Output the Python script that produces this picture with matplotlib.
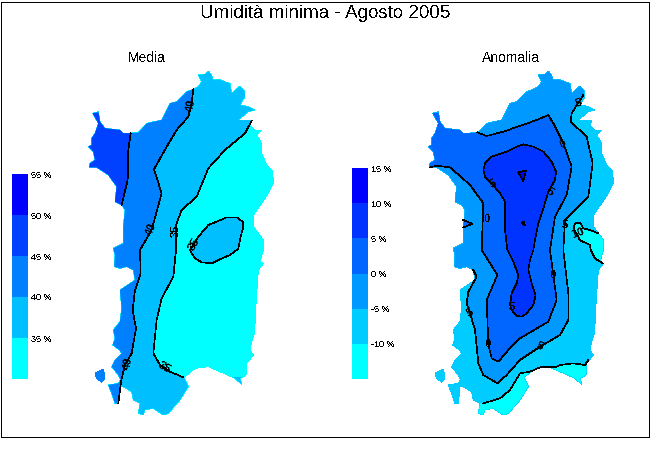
import matplotlib
matplotlib.use("Agg")
import matplotlib.pyplot as plt
from matplotlib.patches import Polygon, Rectangle

plt.rcParams['font.family'] = ['Liberation Sans', 'DejaVu Sans']
plt.rcParams['text.antialiased'] = False

# Map coordinates: 3 units = 1 pixel, origin at top left of the map box
coast = [(355,20),(365,5),(355,-15),(375,-18),(385,-27),(395,-15),(400,0),(415,-2),(435,5),(450,10),(455,40),(480,18),
         (495,35),(495,50),(485,65),(482,75),(505,80),(525,90),(505,95),(475,120),(510,120),(515,122),(510,135),(525,150),
         (545,150),(530,165),(545,190),(545,220),(560,255),(578,275),(580,310),(565,340),(548,365),(520,405),(520,440),
         (550,480),(550,510),(540,545),(550,550),(535,570),(532,610),(528,670),(525,730),(525,755),(515,785),(510,810),
         (520,825),(500,850),(498,885),(480,895),(485,913),(465,895),(420,875),(385,860),(345,865),(312,892),(325,920),
         (300,960),(265,1000),(250,1005),(220,985),(195,990),(190,1005),(175,1000),(180,970),(160,960),(155,935),(130,920),
         (120,920),(115,970),(105,970),(95,940),(85,915),(115,910),(122,900),(115,885),(95,860),(105,840),(125,820),
         (118,810),(98,795),(105,775),(100,750),(120,725),(125,685),(120,630),(135,620),(165,600),(160,570),(140,560),
         (120,565),(103,560),(105,525),(100,505),(130,490),(130,440),(135,390),(125,375),(105,365),(110,320),(85,285),
         (50,262),(28,262),(30,250),(45,240),(40,215),(25,200),(35,195),(35,175),(45,160),(55,130),(38,100),(55,95),
         (60,125),(75,145),(120,150),(130,160),(175,158),(200,130),(245,120),(270,70),(290,65),(320,35),(340,28)]
small_island = [(45,880),(70,868),(75,895),(65,907),(50,895)]

# Media contours
media_45 = [(152,160),(145,210),(143,300),(125,375)]
media_40 = [(340,28),(335,70),(325,110),(290,150),(260,200),(222,268),(245,340),(215,450),(180,510),(182,580),
            (165,630),(158,690),(168,745),(155,820),(135,855),(123,905),(115,970)]
media_35 = [(515,122),(495,160),(435,210),(385,265),(350,350),(305,390),(288,435),(288,510),(280,590),(245,655),
            (230,720),(225,770),(220,820),(240,855),(270,875),(310,892)]
media_35_closed = [(355,470),(385,435),(410,425),(440,412),(470,412),(488,425),(490,440),(482,470),(475,505),(470,510),
                   (450,525),(415,540),(395,550),(365,547),(345,535),(335,520),(330,510),(340,495)]

# Anomalia contours
anom_m10_east = [(535,460),(510,450),(490,445),(480,428),(465,430),(460,445),(475,470),(478,480),(510,495),(512,510),
                 (525,535),(548,550)]
anom_m10_south = [(190,970),(240,955),(270,930),(300,880),(330,875),(360,862),(410,860),(420,855),(460,850),(495,855),
                  (505,840)]
anom_m5 = [(490,45),(475,68),(455,100),(452,125),(500,170),(518,250),(505,350),(435,420),(430,510),(445,640),(445,720),
           (420,765),(360,800),(300,840),(260,885),(232,910),(190,885),(175,850),(165,750),(150,700),(140,670),(145,635),
           (170,590),(160,570)]
anom_0 = [(172,157),(200,168),(250,155),(350,120),(385,105),(400,130),(430,190),(455,260),(440,345),(405,410),(390,510),
          (400,585),(410,660),(385,725),(300,775),(265,810),(235,845),(215,835),(205,795),(200,660),(232,585),(185,510),
          (190,370),(150,315),(90,262),(50,257),(30,262)]
anom_5 = [(310,193),(340,200),(370,215),(395,245),(408,275),(405,300),(385,335),(370,385),(355,430),(345,480),(340,510),
          (330,540),(325,570),(335,610),(347,645),(340,675),(320,700),(305,710),(290,708),(275,690),(270,675),(275,640),
          (290,610),(295,585),(280,545),(262,510),(255,450),(255,365),(240,340),(215,310),(195,290),(190,270),(195,250),
          (215,230),(260,215),(290,200)]
anom_10_a = [(295,277),(318,272),(310,303)]
anom_10_b = [(306,430),(311,424),(315,436)]
anom_bay = [(130,420),(158,432),(130,442)]

# Colour bars
media_levels = [30, 35, 40, 45, 50, 55]
media_colors = ['#00FFFF', '#00BFFF', '#0080FF', '#0040FF', '#0000FF']
anom_levels = [-15, -10, -5, 0, 5, 10, 15]
anom_colors = ['#00FFFF', '#00CCFF', '#0099FF', '#0066FF', '#0033FF', '#0000FF']

W, H = 650, 450


def px_axes(fig, x0, y0, w, h):
    # axes placed by pixel box, y0 counted from the top
    return fig.add_axes([x0 / W, 1 - (y0 + h) / H, w / W, h / H])


def fill(ax, pts, color, clip):
    p = Polygon(pts, closed=True, fc=color, ec='none', antialiased=False, zorder=2)
    ax.add_patch(p)
    p.set_clip_path(clip)


def line(ax, pts, closed=False):
    xs = [p[0] for p in pts]
    ys = [p[1] for p in pts]
    if closed:
        xs.append(xs[0])
        ys.append(ys[0])
    ax.plot(xs, ys, color='black', lw=0.45, zorder=3, antialiased=False)


def map_axes(fig, x0, base):
    ax = px_axes(fig, x0, 60, 200, 360)
    ax.set_xlim(0, 600)
    ax.set_ylim(1020, -60)
    ax.axis('off')
    island = Polygon(coast, closed=True, fc=base, ec='none', antialiased=False, zorder=1)
    ax.add_patch(island)
    ax.add_patch(Polygon(small_island, closed=True, fc=base, ec='none', antialiased=False, zorder=1))
    return ax, island


def label(ax, x, y, s, rot):
    ax.text(x, y, s, fontsize=8, fontweight='bold', rotation=rot, ha='center', va='center',
            color='black', zorder=4)


def colorbar(fig, x0, y0, h, levels, colors, tick_levels, suffix=' %'):
    ax = px_axes(fig, x0, y0, 16, h)
    ax.bar([0] * len(colors), [levels[i + 1] - levels[i] for i in range(len(colors))], bottom=levels[:-1],
           width=1, color=colors, antialiased=False)
    ax.set_xlim(-0.5, 0.5)
    ax.set_ylim(levels[0], levels[-1])
    ax.set_xticks([])
    ax.yaxis.tick_right()
    ax.set_yticks(tick_levels)
    ax.set_yticklabels([str(v) + suffix for v in tick_levels], fontsize=6.5)
    ax.tick_params(axis='y', length=0, pad=2)
    for s in ax.spines.values():
        s.set_visible(False)


fig = plt.figure(figsize=(6.5, 4.5), dpi=100)
fig.add_artist(Rectangle((0.5 / W, 1 - 436.5 / H), 648.5 / W, 435 / H, transform=fig.transFigure,
                         fc='none', ec='black', lw=0.72, antialiased=False))

fig.text(325 / W, 1 - 13.5 / H, 'Umidità minima - Agosto 2005', fontsize=13.5, ha='center', va='center')
fig.text(146.5 / W, 1 - 58 / H, 'Media', fontsize=10, ha='center', va='center')
fig.text(511 / W, 1 - 58 / H, 'Anomalia', fontsize=10, ha='center', va='center')

# Left map
ax, island = map_axes(fig, 80, media_colors[0])
fill(ax, media_35 + [(660,895),(660,1030),(-5,1030),(-5,-60),(660,-60),(660,100)], media_colors[1], island)
fill(ax, media_35_closed, media_colors[1], island)
fill(ax, media_40 + [(-5,1030),(-5,-30),(340,-30)], media_colors[2], island)
fill(ax, media_45 + [(-5,375),(-5,100),(152,100)], media_colors[3], island)
ax.add_patch(Polygon(small_island, closed=True, fc=media_colors[2], ec='none', antialiased=False, zorder=2))
for c in (media_45, media_40, media_35):
    line(ax, c)
line(ax, media_35_closed, closed=True)
label(ax, 332, 75, '40', 80)
label(ax, 213, 448, '40', 70)
label(ax, 288, 452, '35', 90)
label(ax, 342, 492, '35', 60)
label(ax, 145, 850, '40', 80)
label(ax, 255, 863, '35', -30)

# Right map
ax, island = map_axes(fig, 420, anom_colors[1])
fill(ax, anom_m10_east + [(620,560),(620,440)], anom_colors[0], island)
fill(ax, anom_m10_south + [(620,840),(620,1030),(150,1030),(150,970)], anom_colors[0], island)
fill(ax, anom_m5 + [(-5,555),(-5,-60),(500,-60)], anom_colors[2], island)
fill(ax, anom_0 + [(-5,262),(-5,100),(172,100)], anom_colors[3], island)
fill(ax, anom_bay, anom_colors[3], island)
fill(ax, anom_5, anom_colors[4], island)
fill(ax, anom_10_a, anom_colors[5], island)
fill(ax, anom_10_b, anom_colors[5], island)
ax.add_patch(Polygon(small_island, closed=True, fc=anom_colors[1], ec='none', antialiased=False, zorder=2))
for c in (anom_m10_east, anom_m10_south, anom_m5, anom_0):
    line(ax, c)
for c in (anom_5, anom_10_a, anom_10_b):
    line(ax, c, closed=True)
line(ax, anom_bay)
for x, y, s, rot in [(475, 68, '5', 20), (430, 193, '0', 20), (218, 313, '5', 30), (388, 335, '5', -30),
                     (202, 418, '0', 0), (433, 436, '5', 0), (473, 460, '10', 20), (400, 585, '0', 0),
                     (275, 680, '5', 0), (148, 700, '5', 30), (207, 793, '0', 0), (360, 800, '5', -20)]:
    label(ax, x, y, s, rot)

colorbar(fig, 12, 174, 205, media_levels, media_colors, media_levels[1:])
colorbar(fig, 352, 168, 211, anom_levels, anom_colors, anom_levels[1:])

fig.savefig('out.png', dpi=100)
